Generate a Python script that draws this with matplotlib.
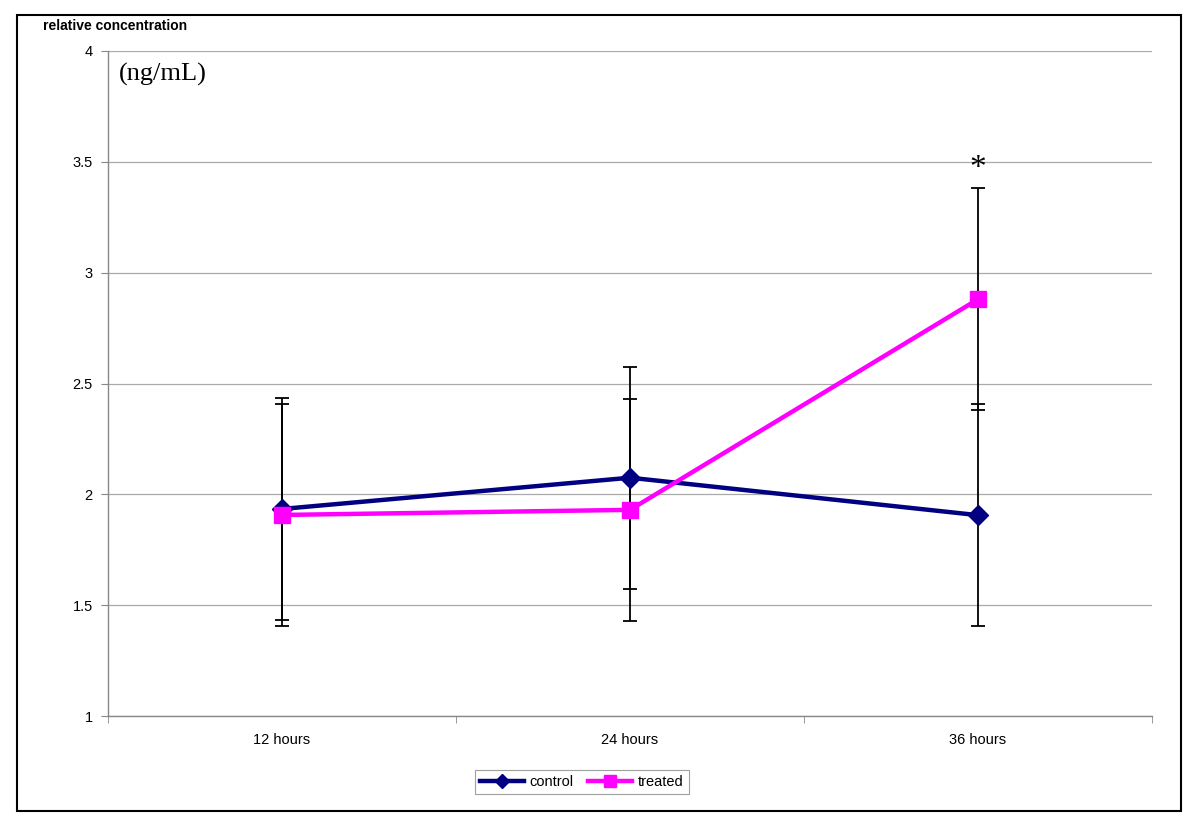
import matplotlib
matplotlib.use("Agg")
import matplotlib.pyplot as plt
from matplotlib.patches import Rectangle
import numpy as np

categories = ["12 hours", "24 hours", "36 hours"]
control = [1.934, 2.075, 1.906]
treated = [1.907, 1.930, 2.880]
control_err = [0.5, 0.5, 0.5]
treated_err = [0.5, 0.5, 0.5]
yticks = [1, 1.5, 2, 2.5, 3, 3.5, 4]
ytick_labels = ["1", "1.5", "2", "2.5", "3", "3.5", "4"]

plt.rcParams['font.family'] = ['Liberation Sans', 'DejaVu Sans']

fig = plt.figure(figsize=(12, 8.39), dpi=100)
ax = fig.add_axes([108/1200, 1-716/839, (1152-108)/1200, (716-51)/839])

x = np.arange(len(categories))
ax.errorbar(x, control, yerr=control_err, fmt='none', ecolor='black',
            elinewidth=1.3, capsize=5, capthick=1.3, zorder=2)
ax.errorbar(x, treated, yerr=treated_err, fmt='none', ecolor='black',
            elinewidth=1.3, capsize=5, capthick=1.3, zorder=2)
ax.plot(x, control, color='#000080', lw=3.2, marker='D', markersize=10,
        label='control', zorder=3)
ax.plot(x, treated, color='#FF00FF', lw=3.2, marker='s', markersize=11,
        label='treated', zorder=4)

ax.set_xlim(-0.5, len(categories) - 0.5)
ax.set_ylim(1, 4)
ax.set_yticks(yticks)
ax.set_yticklabels(ytick_labels)
ax.set_xticks(x)
ax.set_xticklabels(categories)
ax.set_xticks(np.arange(len(categories) + 1) - 0.5, minor=True)
ax.tick_params(axis='x', which='major', length=0, pad=12, labelsize=10.5)
ax.tick_params(axis='x', which='minor', length=5, color='#888888', direction='out')
ax.tick_params(axis='y', length=5, color='#888888', pad=6, labelsize=10.5)
ax.yaxis.grid(True, color='#aaaaaa', lw=0.9)
ax.set_axisbelow(True)
for s in ['top', 'right']:
    ax.spines[s].set_visible(False)
for s in ['left', 'bottom']:
    ax.spines[s].set_color('#888888')
    ax.spines[s].set_linewidth(1.0)

ax.text(2, 3.47, '*', ha='center', va='center', fontsize=24,
        family=['Liberation Serif', 'DejaVu Serif'])
ax.text(0.01, 0.982, '(ng/mL)', transform=ax.transAxes, ha='left', va='top',
        fontsize=19, family=['Liberation Serif', 'DejaVu Serif'])

fig.text(43/1200, 1-26/839, 'relative concentration', ha='left', va='center',
         fontsize=10, fontweight='bold')

leg = ax.legend(loc='center', bbox_to_anchor=((582-108)/1044, (716-782)/665),
                ncol=2, frameon=True, fancybox=False, edgecolor='#888888',
                fontsize=10.5, handlelength=3, columnspacing=1.0,
                borderpad=0.35, handletextpad=0.4, markerscale=0.75)
leg.get_frame().set_linewidth(0.8)

fig.patches.append(Rectangle((17/1200, 1-811/839), (1181-17)/1200, (811-15)/839,
                             transform=fig.transFigure, fill=False,
                             edgecolor='black', lw=1.5))

fig.savefig('out.png', dpi=100)
